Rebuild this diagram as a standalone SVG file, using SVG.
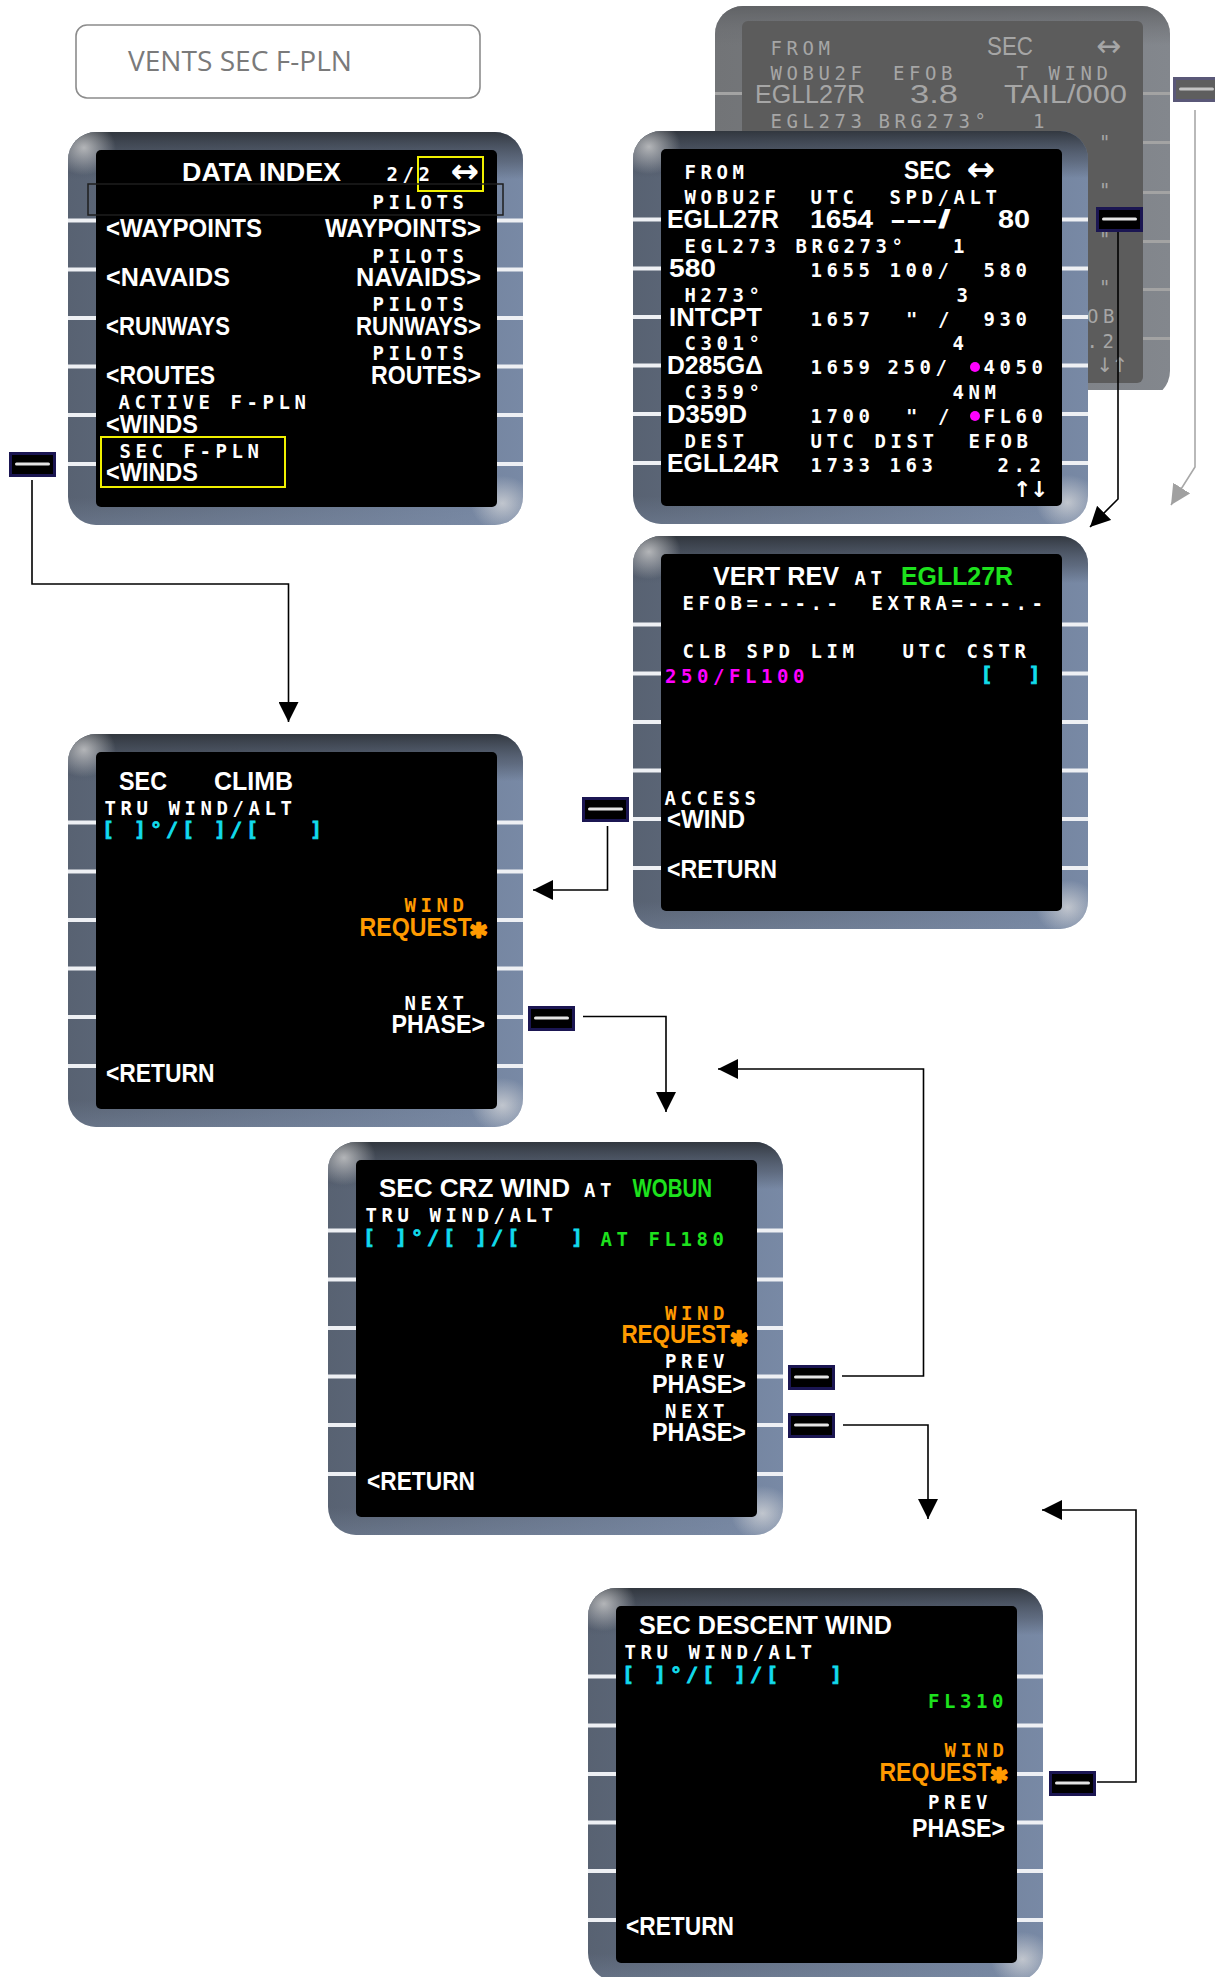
<svg xmlns="http://www.w3.org/2000/svg" width="1215" height="1977" viewBox="0 0 1215 1977">
<style>
.L{font-family:"Liberation Sans",Arial,sans-serif;font-weight:bold;font-size:26px;fill:#fff}
.Lf{font-family:"Liberation Sans",Arial,sans-serif;font-weight:normal;font-size:26px;fill:#a6a6a6}
.S{font-family:"DejaVu Sans Mono",monospace;font-weight:bold;font-size:19px;letter-spacing:4.56px;fill:#fff}
.Sf{font-family:"DejaVu Sans Mono",monospace;font-weight:normal;font-size:19px;letter-spacing:4.56px;fill:#a6a6a6}
.C{font-family:"DejaVu Sans Mono",monospace;font-weight:bold;font-size:20px;letter-spacing:3.96px;fill:#12dcec;stroke:#12dcec;stroke-width:0.8}
.A{font-family:"DejaVu Sans",sans-serif;font-weight:bold;fill:#fff}
.Af{font-family:"DejaVu Sans",sans-serif;font-weight:normal;fill:#a6a6a6}
.st{font-family:"DejaVu Sans",sans-serif;font-weight:bold;font-size:30px;fill:#ff9a00;stroke:#ff9a00;stroke-width:2.6;stroke-linejoin:round;text-anchor:middle}
.g{fill:#1de21d}.o{fill:#ff9a00}.m{fill:#ff00ff}
.con{fill:none;stroke:#000;stroke-width:1.6}
.conf{fill:none;stroke:#a8a8a8;stroke-width:1.6}
.bar{fill:#eef0f4}
.barf{fill:#a3a3a3}
</style>
<defs>
<linearGradient id="bzH" x1="0" y1="0" x2="1" y2="0">
<stop offset="0" stop-color="#586272"/><stop offset="1" stop-color="#7889a5"/>
</linearGradient>
<linearGradient id="bzV" x1="0" y1="0" x2="0" y2="1">
<stop offset="0" stop-color="#2f343b" stop-opacity="0.95"/>
<stop offset="0.075" stop-color="#4a5260" stop-opacity="0.55"/>
<stop offset="0.12" stop-color="#4a5260" stop-opacity="0"/>
<stop offset="0.93" stop-color="#8090aa" stop-opacity="0"/>
<stop offset="1" stop-color="#8090aa" stop-opacity="0.35"/>
</linearGradient>
<radialGradient id="hlTL" cx="0.035" cy="0.04" r="0.07">
<stop offset="0" stop-color="#d8d8d8" stop-opacity="0.75"/><stop offset="1" stop-color="#d8d8d8" stop-opacity="0"/>
</radialGradient>
<radialGradient id="hlBR" cx="0.955" cy="0.945" r="0.07">
<stop offset="0" stop-color="#e0e0e0" stop-opacity="0.7"/><stop offset="1" stop-color="#e0e0e0" stop-opacity="0"/>
</radialGradient>
<linearGradient id="fzH" x1="0" y1="0" x2="1" y2="0">
<stop offset="0" stop-color="#727477"/><stop offset="1" stop-color="#83878d"/>
</linearGradient>
<linearGradient id="fzV" x1="0" y1="0" x2="0" y2="1">
<stop offset="0" stop-color="#5e6063" stop-opacity="0.9"/>
<stop offset="0.06" stop-color="#6a6c70" stop-opacity="0.4"/>
<stop offset="0.1" stop-color="#6a6c70" stop-opacity="0"/>
</linearGradient>
<g id="frame">
<rect width="455" height="393" rx="28" fill="url(#bzH)"/>
<rect width="455" height="393" rx="28" fill="url(#bzV)"/>
<rect width="455" height="393" rx="28" fill="url(#hlTL)"/>
<rect width="455" height="393" rx="28" fill="url(#hlBR)"/>
<rect x="28" y="18" width="401" height="357" rx="5" fill="#000"/>
<rect class="bar" x="0" y="86.5" width="28" height="4"/>
<rect class="bar" x="0" y="135.5" width="28" height="4"/>
<rect class="bar" x="0" y="184" width="28" height="4"/>
<rect class="bar" x="0" y="232.5" width="28" height="4"/>
<rect class="bar" x="0" y="281" width="28" height="4"/>
<rect class="bar" x="0" y="330" width="28" height="4"/>
<rect class="bar" x="429" y="86.5" width="26" height="4"/>
<rect class="bar" x="429" y="135.5" width="26" height="4"/>
<rect class="bar" x="429" y="184" width="26" height="4"/>
<rect class="bar" x="429" y="232.5" width="26" height="4"/>
<rect class="bar" x="429" y="281" width="26" height="4"/>
<rect class="bar" x="429" y="330" width="26" height="4"/>
</g>
<g id="btn">
<rect x="1.5" y="1.5" width="44" height="22" fill="#000" stroke="#1b1652" stroke-width="3"/>
<rect x="6" y="10.5" width="35" height="3" rx="1.5" fill="#e4e4e4"/>
</g>
<clipPath id="fclip"><rect x="715" y="6" width="455" height="384"/></clipPath>
<marker id="ah" viewBox="0 0 20 20" refX="20" refY="10" markerWidth="20" markerHeight="20" markerUnits="userSpaceOnUse" orient="auto"><path d="M0,0 L20,10 L0,20 z" fill="#000"/></marker>
<marker id="ahf" viewBox="0 0 20 20" refX="20" refY="10" markerWidth="20" markerHeight="20" markerUnits="userSpaceOnUse" orient="auto"><path d="M0,0 L20,10 L0,20 z" fill="#a0a0a0"/></marker>
</defs>

<g id="title">
<rect x="76" y="25" width="404" height="73" rx="11" fill="#fff" stroke="#8c8c8c" stroke-width="1.6"/>
<text x="128" y="71" font-family="'Open Sans',sans-serif" font-size="28" fill="#7a7a7a" textLength="224" lengthAdjust="spacingAndGlyphs">VENTS SEC F-PLN</text>
</g>

<g id="panel-fpln-faded">
<g clip-path="url(#fclip)">
<rect x="715" y="6" width="455" height="393" rx="28" fill="url(#fzH)"/>
<rect x="715" y="6" width="455" height="393" rx="28" fill="url(#fzV)"/>
<rect x="742" y="21" width="401" height="362" rx="6" fill="#5c5c5c"/>
<rect class="barf" x="715" y="92" width="27" height="3"/>
<rect class="barf" x="715" y="141" width="27" height="3"/>
<rect class="barf" x="715" y="191" width="27" height="3"/>
<rect class="barf" x="715" y="240" width="27" height="3"/>
<rect class="barf" x="715" y="288" width="27" height="3"/>
<rect class="barf" x="715" y="337" width="27" height="3"/>
<rect class="barf" x="1143" y="92" width="27" height="3"/>
<rect class="barf" x="1143" y="141" width="27" height="3"/>
<rect class="barf" x="1143" y="191" width="27" height="3"/>
<rect class="barf" x="1143" y="240" width="27" height="3"/>
<rect class="barf" x="1143" y="288" width="27" height="3"/>
<rect class="barf" x="1143" y="337" width="27" height="3"/>
</g>
<text class="Sf" x="770.5" y="55">FROM</text>
<text class="Lf" x="987" y="55" textLength="46" lengthAdjust="spacingAndGlyphs">SEC</text>
<text class="Af" x="1096" y="55.5" font-size="30">↔</text>
<text class="Sf" x="770.5" y="80">WOBU2F</text>
<text class="Sf" x="893" y="80">EFOB</text>
<text class="Sf" x="1016.5" y="80">T WIND</text>
<text class="Lf" x="755" y="103" textLength="110" lengthAdjust="spacingAndGlyphs">EGLL27R</text>
<text class="Lf" x="910" y="103" textLength="48" lengthAdjust="spacingAndGlyphs">3.8</text>
<text class="Lf" x="1004" y="103" textLength="123" lengthAdjust="spacingAndGlyphs">TAIL/000</text>
<text class="Sf" x="770.5" y="128">EGL273</text>
<text class="Sf" x="878.5" y="128">BRG273°</text>
<text class="Sf" x="1033" y="128">1</text>
<text class="Sf" x="1099" y="149">"</text>
<text class="Sf" x="1099" y="197">"</text>
<text class="Sf" x="1099" y="246">"</text>
<text class="Sf" x="1099" y="294">"</text>
<text class="Sf" x="1055" y="323">EFOB</text>
<text class="Sf" x="1070.5" y="348">2.2</text>
<text class="Af" x="1096.5" y="372" font-size="20" letter-spacing="-1.8">↓↑</text>
</g>

<g id="panel-data-index">
<use href="#frame" x="68" y="132"/>
<rect x="418" y="157" width="65" height="34" fill="none" stroke="#f0f000" stroke-width="2"/>
<rect x="88" y="184" width="415" height="31" fill="none" stroke="#1e1e1e" stroke-width="1.5"/>
<text class="L" x="182" y="181" textLength="159" lengthAdjust="spacingAndGlyphs">DATA INDEX</text>
<text class="S" x="386.5" y="181">2/2</text>
<text class="A" x="450.5" y="183" font-size="34">↔</text>
<text class="S" x="372.5" y="209">PILOTS</text>
<text class="L" x="106" y="237" textLength="156" lengthAdjust="spacingAndGlyphs">&lt;WAYPOINTS</text>
<text class="L" x="325" y="237" textLength="156" lengthAdjust="spacingAndGlyphs">WAYPOINTS&gt;</text>
<text class="S" x="372.5" y="263">PILOTS</text>
<text class="L" x="106" y="286" textLength="124" lengthAdjust="spacingAndGlyphs">&lt;NAVAIDS</text>
<text class="L" x="356" y="286" textLength="125" lengthAdjust="spacingAndGlyphs">NAVAIDS&gt;</text>
<text class="S" x="372.5" y="311">PILOTS</text>
<text class="L" x="106" y="335" textLength="124" lengthAdjust="spacingAndGlyphs">&lt;RUNWAYS</text>
<text class="L" x="356" y="335" textLength="125" lengthAdjust="spacingAndGlyphs">RUNWAYS&gt;</text>
<text class="S" x="372.5" y="360">PILOTS</text>
<text class="L" x="106" y="384" textLength="109" lengthAdjust="spacingAndGlyphs">&lt;ROUTES</text>
<text class="L" x="371" y="384" textLength="110" lengthAdjust="spacingAndGlyphs">ROUTES&gt;</text>
<text class="S" x="118.5" y="409">ACTIVE F-PLN</text>
<text class="L" x="106" y="433" textLength="92" lengthAdjust="spacingAndGlyphs">&lt;WINDS</text>
<rect x="101" y="437" width="184" height="50" fill="none" stroke="#f0f000" stroke-width="2"/>
<text class="S" x="119.5" y="458">SEC F-PLN</text>
<text class="L" x="106" y="481" textLength="92" lengthAdjust="spacingAndGlyphs">&lt;WINDS</text>
</g>

<g id="panel-fpln">
<use href="#frame" x="633" y="131"/>
<text class="S" x="684.5" y="179">FROM</text>
<text class="L" x="904" y="179" textLength="47" lengthAdjust="spacingAndGlyphs">SEC</text>
<text class="A" x="966.5" y="181" font-size="34">↔</text>
<text class="S" x="684.5" y="204">WOBU2F</text>
<text class="S" x="810.5" y="204">UTC</text>
<text class="S" x="889.5" y="204">SPD/ALT</text>
<text class="L" x="667" y="228" textLength="112" lengthAdjust="spacingAndGlyphs">EGLL27R</text>
<text class="L" x="810" y="228" textLength="63" lengthAdjust="spacingAndGlyphs">1654</text>
<text class="L" x="890" y="228" textLength="61" lengthAdjust="spacingAndGlyphs">---/</text>
<text class="L" x="998" y="228" textLength="32" lengthAdjust="spacingAndGlyphs">80</text>
<text class="S" x="684.5" y="253">EGL273</text>
<text class="S" x="795.5" y="253">BRG273°</text>
<text class="S" x="953" y="253">1</text>
<text class="L" x="669" y="277" textLength="47" lengthAdjust="spacingAndGlyphs">580</text>
<text class="S" x="810.5" y="277">1655</text>
<text class="S" x="889.5" y="277">100/</text>
<text class="S" x="983.5" y="277">580</text>
<text class="S" x="684.5" y="302">H273°</text>
<text class="S" x="956.5" y="302">3</text>
<text class="L" x="669" y="326" textLength="93" lengthAdjust="spacingAndGlyphs">INTCPT</text>
<text class="S" x="810.5" y="326">1657</text>
<text class="S" x="906" y="326">" /</text>
<text class="S" x="983.5" y="326">930</text>
<text class="S" x="684.5" y="350">C301°</text>
<text class="S" x="952.5" y="350">4</text>
<text class="L" x="667" y="374" textLength="96" lengthAdjust="spacingAndGlyphs">D285GΔ</text>
<text class="S" x="810.5" y="374">1659</text>
<text class="S" x="887.5" y="374">250/</text>
<circle cx="975" cy="367" r="5" fill="#ff00ff"/>
<text class="S" x="983.5" y="374">4050</text>
<text class="S" x="684.5" y="399">C359°</text>
<text class="S" x="952.5" y="399">4NM</text>
<text class="L" x="667" y="423" textLength="80" lengthAdjust="spacingAndGlyphs">D359D</text>
<text class="S" x="810.5" y="423">1700</text>
<text class="S" x="906" y="423">" /</text>
<circle cx="975" cy="416" r="5" fill="#ff00ff"/>
<text class="S" x="983.5" y="423">FL60</text>
<text class="S" x="684.5" y="448">DEST</text>
<text class="S" x="810.5" y="448">UTC</text>
<text class="S" x="874.5" y="448">DIST</text>
<text class="S" x="968.5" y="448">EFOB</text>
<text class="L" x="667" y="472" textLength="112" lengthAdjust="spacingAndGlyphs">EGLL24R</text>
<text class="S" x="810.5" y="472">1733</text>
<text class="S" x="889.5" y="472">163</text>
<text class="S" x="997.5" y="472">2.2</text>
<text class="A" x="1013" y="497" font-size="22" letter-spacing="-1.5">↑↓</text>
</g>

<g id="panel-vert-rev">
<use href="#frame" x="633" y="536"/>
<text class="L" x="713" y="585" textLength="126" lengthAdjust="spacingAndGlyphs">VERT REV</text>
<text class="S" x="854.5" y="585">AT</text>
<text class="L g" x="901" y="585" textLength="112" lengthAdjust="spacingAndGlyphs">EGLL27R</text>
<text class="S" x="682.5" y="610">EFOB=---.-</text>
<text class="S" x="871.5" y="610">EXTRA=---.-</text>
<text class="S" x="682.5" y="658">CLB SPD LIM</text>
<text class="S" x="902.5" y="658">UTC CSTR</text>
<text class="S m" x="665" y="683">250/FL100</text>
<text class="C" x="980.5" y="680.5" xml:space="preserve">[  ]</text>
<text class="S" x="664.5" y="805">ACCESS</text>
<text class="L" x="667" y="828" textLength="78" lengthAdjust="spacingAndGlyphs">&lt;WIND</text>
<text class="L" x="667" y="878" textLength="110" lengthAdjust="spacingAndGlyphs">&lt;RETURN</text>
</g>

<g id="panel-sec-climb">
<use href="#frame" x="68" y="734"/>
<text class="L" x="119" y="790" textLength="48" lengthAdjust="spacingAndGlyphs">SEC</text>
<text class="L" x="214" y="790" textLength="79" lengthAdjust="spacingAndGlyphs">CLIMB</text>
<text class="S" x="104.5" y="814.6">TRU WIND/ALT</text>
<text class="C" x="102" y="835.7" xml:space="preserve">[ ]°/[ ]/[   ]</text>
<text class="S o" x="404.5" y="911.5">WIND</text>
<text class="L o" x="359.6" y="936" textLength="112" lengthAdjust="spacingAndGlyphs">REQUEST</text>
<text class="st" x="478.5" y="944.5">*</text>
<text class="S" x="404.5" y="1010">NEXT</text>
<text class="L" x="391.6" y="1033" textLength="93.4" lengthAdjust="spacingAndGlyphs">PHASE&gt;</text>
<text class="L" x="106" y="1082" textLength="108.5" lengthAdjust="spacingAndGlyphs">&lt;RETURN</text>
</g>

<g id="panel-sec-crz-wind">
<use href="#frame" x="328" y="1142"/>
<text class="L" x="379" y="1197" textLength="191" lengthAdjust="spacingAndGlyphs">SEC CRZ WIND</text>
<text class="S" x="584" y="1197">AT</text>
<text class="L g" x="632.4" y="1197" textLength="79.6" lengthAdjust="spacingAndGlyphs">WOBUN</text>
<text class="S" x="365.5" y="1222">TRU WIND/ALT</text>
<text class="C" x="363" y="1244" xml:space="preserve">[ ]°/[ ]/[   ]</text>
<text class="S g" x="600.5" y="1245.7">AT FL180</text>
<text class="S o" x="665" y="1320">WIND</text>
<text class="L o" x="621.4" y="1343" textLength="108.6" lengthAdjust="spacingAndGlyphs">REQUEST</text>
<text class="st" x="739" y="1352.5">*</text>
<text class="S" x="665" y="1368">PREV</text>
<text class="L" x="652" y="1392.7" textLength="94" lengthAdjust="spacingAndGlyphs">PHASE&gt;</text>
<text class="S" x="665" y="1417.7">NEXT</text>
<text class="L" x="652" y="1440.7" textLength="94" lengthAdjust="spacingAndGlyphs">PHASE&gt;</text>
<text class="L" x="367" y="1490" textLength="108" lengthAdjust="spacingAndGlyphs">&lt;RETURN</text>
</g>

<g id="panel-sec-descent-wind">
<use href="#frame" x="588" y="1588"/>
<text class="L" x="639" y="1634" textLength="253" lengthAdjust="spacingAndGlyphs">SEC DESCENT WIND</text>
<text class="S" x="624.5" y="1659">TRU WIND/ALT</text>
<text class="C" x="622" y="1680.7" xml:space="preserve">[ ]°/[ ]/[   ]</text>
<text class="S g" x="928" y="1707.7">FL310</text>
<text class="S o" x="944.5" y="1756.7">WIND</text>
<text class="L o" x="879.4" y="1780.7" textLength="111.6" lengthAdjust="spacingAndGlyphs">REQUEST</text>
<text class="st" x="999" y="1789.5">*</text>
<text class="S" x="928" y="1809">PREV</text>
<text class="L" x="912" y="1836.7" textLength="93" lengthAdjust="spacingAndGlyphs">PHASE&gt;</text>
<text class="L" x="626" y="1935" textLength="108" lengthAdjust="spacingAndGlyphs">&lt;RETURN</text>
</g>

<g id="buttons">
<use href="#btn" x="9" y="452"/>
<use href="#btn" x="1096" y="207"/>
<use href="#btn" x="582" y="797"/>
<use href="#btn" x="528" y="1006"/>
<use href="#btn" x="788" y="1365"/>
<use href="#btn" x="788" y="1413"/>
<use href="#btn" x="1049" y="1771"/>
<g id="btn-faded">
<rect x="1174.5" y="78.5" width="44" height="22" fill="#5e5e5e" stroke="#5a5878" stroke-width="3"/>
<rect x="1179" y="87.5" width="35" height="3" rx="1.5" fill="#c4c4c4"/>
</g>
</g>

<g id="connectors">
<path class="con" d="M32,480 V584 H288.5 V722" marker-end="url(#ah)"/>
<path class="con" d="M1118,232 V499 L1090,527" marker-end="url(#ah)"/>
<path class="conf" d="M1195,110 V467 L1171,505" marker-end="url(#ahf)"/>
<path class="con" d="M607.5,826 V890 H533" marker-end="url(#ah)"/>
<path class="con" d="M583,1016.5 H666 V1112" marker-end="url(#ah)"/>
<path class="con" d="M842,1376 H923.5 V1069 H718" marker-end="url(#ah)"/>
<path class="con" d="M843,1425 H928 V1519" marker-end="url(#ah)"/>
<path class="con" d="M1097,1782 H1136 V1510 H1042" marker-end="url(#ah)"/>
</g>
</svg>
